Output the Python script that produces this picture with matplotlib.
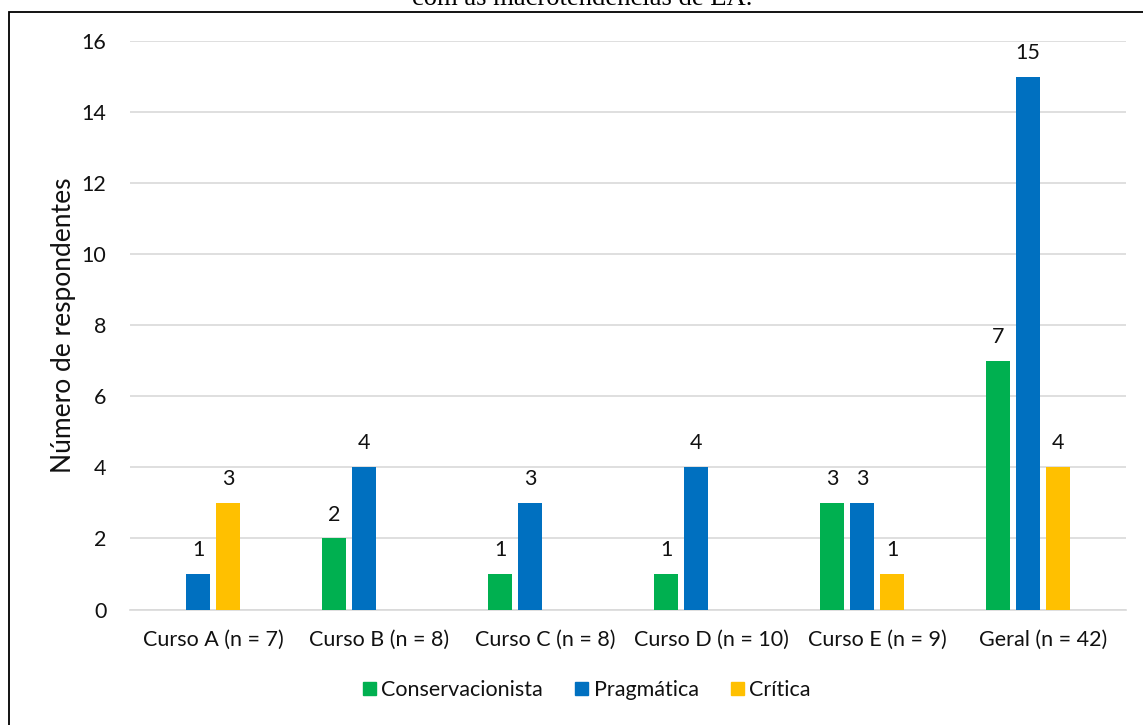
import numpy as np
import matplotlib
matplotlib.use("Agg")
import matplotlib.pyplot as plt
import matplotlib.patches as mpatches

# dados
categorias = ["Curso A (n = 7)", "Curso B (n = 8)", "Curso C (n = 8)",
              "Curso D (n = 10)", "Curso E (n = 9)", "Geral (n = 42)"]
conservacionista = [0, 2, 1, 1, 3, 7]
pragmatica = [1, 4, 3, 4, 3, 15]
critica = [3, 0, 0, 0, 1, 4]

series = ["Conservacionista", "Pragmática", "Crítica"]
valores = [conservacionista, pragmatica, critica]
cores = ["#00B050", "#0070C0", "#FFC000"]

FONT = "Lato"
TXT = "#111111"
FS = 15.5

fig = plt.figure(figsize=(11.43, 7.25), dpi=100)
ax = fig.add_axes([130 / 1143, 1 - 609.5 / 725, 996 / 1143, 568.5 / 725])

x = np.arange(len(categorias))
larg = 0.1406
passo = 0.1807
# Excel reserva 4 posições por grupo (a 4a fica vazia)
offsets = (np.arange(4) - 1.5) * passo

for i, (nome, vals, cor) in enumerate(zip(series, valores, cores)):
    xs = x + offsets[i]
    bars = ax.bar(xs, vals, width=larg, color=cor, label=nome, zorder=3)
    for b, v in zip(bars, vals):
        if v == 0:
            continue
        ax.annotate(str(v), (b.get_x() + b.get_width() / 2, v),
                    xytext=(0, 10), textcoords="offset points",
                    ha="center", va="bottom", fontsize=FS,
                    family=FONT, color=TXT)

ax.set_xlim(-0.5, len(categorias) - 0.5)
ax.set_ylim(0, 16)
ax.set_yticks(range(0, 17, 2))
ax.set_xticks(x)
ax.set_xticklabels(categorias)
for lab in ax.get_xticklabels() + ax.get_yticklabels():
    lab.set_family(FONT)
    lab.set_fontsize(FS)
    lab.set_color(TXT)
ax.tick_params(axis="both", length=0)
ax.tick_params(axis="y", pad=17)
ax.tick_params(axis="x", pad=15)

ax.grid(axis="y", color="#D9D9D9", linewidth=1.2, zorder=0)
ax.set_axisbelow(True)
for s in ["top", "right", "left"]:
    ax.spines[s].set_visible(False)
ax.spines["bottom"].set_color("#D9D9D9")
ax.spines["bottom"].set_linewidth(1.2)

ax.set_ylabel("Número de respondentes", fontsize=19, family=FONT,
              color=TXT, labelpad=4)

handles = [mpatches.Patch(color=c, label=n) for c, n in zip(cores, series)]
leg = fig.legend(handles=handles, loc="center", ncol=3,
                 bbox_to_anchor=(587 / 1143, 1 - 690 / 725),
                 frameon=False, handlelength=0.6, handleheight=0.6,
                 handletextpad=0.25, columnspacing=1.5,
                 prop={"family": FONT, "size": FS})
for t in leg.get_texts():
    t.set_color(TXT)

# moldura (cortada à direita e embaixo, como no original)
fig.patches.append(mpatches.Rectangle(
    (9 / 1143, -0.05), 1.2, 1 - 12 / 725 + 0.05,
    transform=fig.transFigure, fill=False, edgecolor="black",
    linewidth=1.3))

# título cortado no topo
fig.text(582 / 1143, 1 - 5 / 725, "com as macrotendências de EA.",
         ha="center", va="baseline", fontsize=19.2,
         family="Liberation Serif", color="black")

fig.savefig("out.png", dpi=100)
